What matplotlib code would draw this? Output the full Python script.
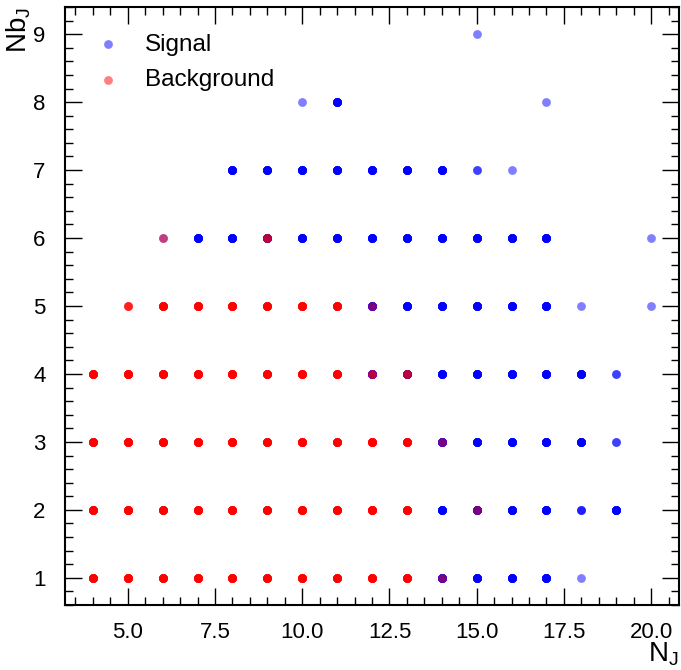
import numpy as np
import matplotlib
matplotlib.use("Agg")
import matplotlib.pyplot as plt
from matplotlib.ticker import MultipleLocator

plt.rcParams['font.family'] = ['Liberation Sans', 'DejaVu Sans']
plt.rcParams['mathtext.fontset'] = 'custom'
plt.rcParams['mathtext.rm'] = 'Liberation Sans'
plt.rcParams['mathtext.it'] = 'Liberation Sans'
plt.rcParams['mathtext.default'] = 'regular'

# Signal: jet multiplicity, b-jet multiplicity, number of events at that point
sig_nj = [14, 15, 16, 17, 18,
          14, 15, 16, 17, 18, 19,
          14, 15, 16, 17, 18, 19,
          12, 13, 14, 15, 16, 17, 18, 19,
          12, 13, 14, 15, 16, 17, 18, 20,
          6, 7, 8, 9, 10, 11, 12, 13, 14, 15, 16, 17, 20,
          8, 9, 10, 11, 12, 13, 14, 15, 16,
          10, 11, 17,
          15]
sig_nbj = [1, 1, 1, 1, 1,
           2, 2, 2, 2, 2, 2,
           3, 3, 3, 3, 3, 3,
           4, 4, 4, 4, 4, 4, 4, 4,
           5, 5, 5, 5, 5, 5, 5, 5,
           6, 6, 6, 6, 6, 6, 6, 6, 6, 6, 6, 6, 6,
           7, 7, 7, 7, 7, 7, 7, 7, 7,
           8, 8, 8,
           9]
sig_count = [8, 8, 8, 8, 1,
             8, 8, 8, 8, 3, 8,
             8, 8, 8, 8, 8, 2,
             8, 8, 8, 8, 8, 8, 8, 2,
             8, 8, 8, 8, 8, 8, 1, 1,
             1, 8, 8, 8, 8, 8, 8, 8, 8, 8, 8, 8, 1,
             8, 8, 8, 8, 8, 8, 8, 2, 1,
             1, 8, 1,
             1]

# Background
bkg_nj = [4, 5, 6, 7, 8, 9, 10, 11, 12, 13, 14,
          4, 5, 6, 7, 8, 9, 10, 11, 12, 13, 15,
          4, 5, 6, 7, 8, 9, 10, 11, 12, 13, 14,
          4, 5, 6, 7, 8, 9, 10, 11, 12, 13,
          5, 6, 7, 8, 9, 10, 11, 12,
          6, 9]
bkg_nbj = [1] * 11 + [2] * 11 + [3] * 11 + [4] * 10 + [5] * 8 + [6] * 2
bkg_count = [8, 8, 8, 8, 8, 8, 8, 8, 8, 8, 1,
             8, 8, 8, 8, 8, 8, 8, 8, 8, 8, 1,
             8, 8, 8, 8, 8, 8, 8, 8, 8, 8, 1,
             8, 8, 8, 8, 8, 8, 8, 8, 2, 2,
             3, 8, 8, 8, 8, 8, 8, 1,
             1, 2]

sx = np.repeat(sig_nj, sig_count)
sy = np.repeat(sig_nbj, sig_count)
bx = np.repeat(bkg_nj, bkg_count)
by = np.repeat(bkg_nbj, bkg_count)

fig = plt.figure(figsize=(6.81, 6.70), dpi=100)
ax = fig.add_axes([65 / 681, 1 - 605 / 670, (679 - 65) / 681, (605 - 7) / 670])

ax.scatter(sx, sy, s=40, color='blue', alpha=0.5, linewidths=0, label='Signal')
ax.scatter(bx, by, s=40, color='red', alpha=0.5, linewidths=0, label='Background')

ax.xaxis.set_major_locator(MultipleLocator(2.5))
ax.xaxis.set_minor_locator(MultipleLocator(0.5))
ax.yaxis.set_major_locator(MultipleLocator(1))
ax.yaxis.set_minor_locator(MultipleLocator(0.2))
ax.tick_params(which='both', direction='in', top=True, right=True, labelsize=16)
ax.tick_params(which='major', length=12, width=1)
ax.tick_params(which='minor', length=6, width=1)
ax.tick_params(axis='x', pad=12)
ax.tick_params(axis='y', pad=14)
for sp in ax.spines.values():
    sp.set_linewidth(1.5)

ax.set_xlabel('$N_J$', fontsize=20, loc='right')
ax.set_ylabel('$Nb_J$', fontsize=20, loc='top')
ax.xaxis.set_label_coords(1.0, -0.060)
ax.yaxis.set_label_coords(-0.052, 1.0)

ax.legend(loc='upper left', frameon=False, fontsize=17.5, handletextpad=0.85,
          borderaxespad=0.7, labelspacing=0.55, handlelength=1.34)

fig.savefig('out.png', dpi=100)
